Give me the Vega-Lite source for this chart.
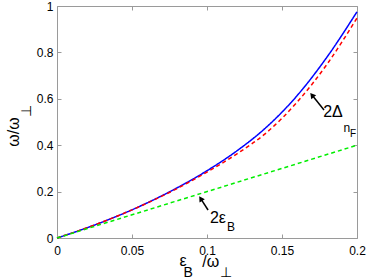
{
  "$schema": "https://vega.github.io/schema/vega-lite/v6.json",
  "width": 300,
  "height": 232,
  "autosize": "none",
  "padding": {"left": 57, "top": 6, "right": 17, "bottom": 41},
  "datasets": {
    "curves": [
      {"x": 0, "y": 0, "series": "omega"},
      {"x": 0.02, "y": 0.044, "series": "omega"},
      {"x": 0.04, "y": 0.094, "series": "omega"},
      {"x": 0.06, "y": 0.151, "series": "omega"},
      {"x": 0.08, "y": 0.216, "series": "omega"},
      {"x": 0.1, "y": 0.29, "series": "omega"},
      {"x": 0.12, "y": 0.376, "series": "omega"},
      {"x": 0.14, "y": 0.48, "series": "omega"},
      {"x": 0.16, "y": 0.613, "series": "omega"},
      {"x": 0.18, "y": 0.78, "series": "omega"},
      {"x": 0.2, "y": 0.975, "series": "omega"},
      {"x": 0, "y": 0, "series": "2Delta_nF"},
      {"x": 0.02, "y": 0.044, "series": "2Delta_nF"},
      {"x": 0.04, "y": 0.094, "series": "2Delta_nF"},
      {"x": 0.06, "y": 0.15, "series": "2Delta_nF"},
      {"x": 0.08, "y": 0.213, "series": "2Delta_nF"},
      {"x": 0.1, "y": 0.284, "series": "2Delta_nF"},
      {"x": 0.12, "y": 0.363, "series": "2Delta_nF"},
      {"x": 0.14, "y": 0.456, "series": "2Delta_nF"},
      {"x": 0.16, "y": 0.585, "series": "2Delta_nF"},
      {"x": 0.18, "y": 0.749, "series": "2Delta_nF"},
      {"x": 0.2, "y": 0.948, "series": "2Delta_nF"},
      {"x": 0, "y": 0, "series": "2eps_B"},
      {"x": 0.2, "y": 0.4, "series": "2eps_B"}
    ],
    "labels": [
      {"x": -0.0287, "y": 0.457, "text": "ω/ω", "kind": "ytitle"},
      {"x": -0.0197, "y": 0.548, "text": "⊥", "kind": "ytitle_sub"},
      {"x": 0.084, "y": -0.099, "text": "ε", "kind": "main"},
      {"x": 0.1025, "y": -0.103, "text": "/ω", "kind": "main"},
      {"x": 0.0875, "y": -0.149, "text": "B", "kind": "sub"},
      {"x": 0.1127, "y": -0.151, "text": "⊥", "kind": "sub"},
      {"x": 0.184, "y": 0.543, "text": "2Δ", "kind": "main"},
      {"x": 0.1933, "y": 0.476, "text": "n", "kind": "sub2"},
      {"x": 0.1973, "y": 0.448, "text": "F", "kind": "sub3"},
      {"x": 0.1073, "y": 0.0862, "text": "2ε", "kind": "main"},
      {"x": 0.116, "y": 0.0453, "text": "B", "kind": "sub2"}
    ],
    "arrows": [
      {"arrow": "Delta", "x": 0.178, "y": 0.552, "x2": 0.17, "y2": 0.616},
      {"arrow": "eps", "x": 0.1007, "y": 0.1207, "x2": 0.0958, "y2": 0.17}
    ]
  },
  "layer": [
    {
      "data": {"name": "curves"},
      "mark": {"type": "line", "strokeWidth": 1.5, "interpolate": "monotone"},
      "encoding": {
        "x": {"field": "x", "type": "quantitative", "scale": {"domain": [0, 0.2], "nice": false},
          "axis": {"orient": "bottom", "values": [0, 0.05, 0.1, 0.15, 0.2], "format": "~g", "title": null, "labelPadding": 11}},
        "y": {"field": "y", "type": "quantitative", "scale": {"domain": [0, 1], "nice": false},
          "axis": {"orient": "left", "values": [0, 0.2, 0.4, 0.6, 0.8, 1], "format": "~g", "title": null}},
        "color": {"field": "series", "type": "nominal", "legend": null,
          "scale": {"domain": ["omega", "2Delta_nF", "2eps_B"], "range": ["#0000ff", "#ff0000", "#00ee00"]}},
        "strokeDash": {"field": "series", "type": "nominal", "legend": null,
          "scale": {"domain": ["omega", "2Delta_nF", "2eps_B"], "range": [[1, 0], [4, 3], [4, 3]]}}
      }
    },
    {
      "data": {"name": "arrows"},
      "mark": {"type": "rule", "color": "black", "strokeWidth": 1.5},
      "encoding": {
        "x": {"field": "x", "type": "quantitative",
          "axis": {"orient": "top", "values": [0, 0.05, 0.1, 0.15, 0.2], "labels": false, "title": null}},
        "y": {"field": "y", "type": "quantitative",
          "axis": {"orient": "right", "values": [0, 0.2, 0.4, 0.6, 0.8, 1], "labels": false, "title": null}},
        "x2": {"field": "x2"},
        "y2": {"field": "y2"}
      }
    },
    {
      "data": {"name": "arrows"},
      "transform": [{"filter": "datum.arrow == 'Delta'"}],
      "mark": {"type": "point", "shape": "triangle-up", "filled": true, "color": "black", "size": 40, "angle": 321, "opacity": 1},
      "encoding": {
        "x": {"field": "x2", "type": "quantitative", "axis": null},
        "y": {"field": "y2", "type": "quantitative", "axis": null}
      }
    },
    {
      "data": {"name": "arrows"},
      "transform": [{"filter": "datum.arrow == 'eps'"}],
      "mark": {"type": "point", "shape": "triangle-up", "filled": true, "color": "black", "size": 40, "angle": 327, "opacity": 1},
      "encoding": {
        "x": {"field": "x2", "type": "quantitative", "axis": null},
        "y": {"field": "y2", "type": "quantitative", "axis": null}
      }
    },
    {
      "data": {"name": "labels"},
      "transform": [{"filter": "datum.kind == 'main'"}],
      "mark": {"type": "text", "font": "Liberation Sans", "fontSize": 16, "baseline": "middle", "align": "center", "color": "black"},
      "encoding": {
        "x": {"field": "x", "type": "quantitative", "axis": null},
        "y": {"field": "y", "type": "quantitative", "axis": null},
        "text": {"field": "text"}
      }
    },
    {
      "data": {"name": "labels"},
      "transform": [{"filter": "datum.kind == 'sub'"}],
      "mark": {"type": "text", "font": "Liberation Sans", "fontSize": 14, "baseline": "middle", "align": "center", "color": "black"},
      "encoding": {
        "x": {"field": "x", "type": "quantitative", "axis": null},
        "y": {"field": "y", "type": "quantitative", "axis": null},
        "text": {"field": "text"}
      }
    },
    {
      "data": {"name": "labels"},
      "transform": [{"filter": "datum.kind == 'sub2'"}],
      "mark": {"type": "text", "font": "Liberation Sans", "fontSize": 12, "baseline": "middle", "align": "center", "color": "black"},
      "encoding": {
        "x": {"field": "x", "type": "quantitative", "axis": null},
        "y": {"field": "y", "type": "quantitative", "axis": null},
        "text": {"field": "text"}
      }
    },
    {
      "data": {"name": "labels"},
      "transform": [{"filter": "datum.kind == 'sub3'"}],
      "mark": {"type": "text", "font": "Liberation Sans", "fontSize": 10, "baseline": "middle", "align": "center", "color": "black"},
      "encoding": {
        "x": {"field": "x", "type": "quantitative", "axis": null},
        "y": {"field": "y", "type": "quantitative", "axis": null},
        "text": {"field": "text"}
      }
    },
    {
      "data": {"name": "labels"},
      "transform": [{"filter": "datum.kind == 'ytitle'"}],
      "mark": {"type": "text", "font": "Liberation Sans", "fontSize": 16, "baseline": "middle", "align": "center", "angle": 270, "color": "black"},
      "encoding": {
        "x": {"field": "x", "type": "quantitative", "axis": null},
        "y": {"field": "y", "type": "quantitative", "axis": null},
        "text": {"field": "text"}
      }
    },
    {
      "data": {"name": "labels"},
      "transform": [{"filter": "datum.kind == 'ytitle_sub'"}],
      "mark": {"type": "text", "font": "Liberation Sans", "fontSize": 14, "baseline": "middle", "align": "center", "angle": 270, "color": "black"},
      "encoding": {
        "x": {"field": "x", "type": "quantitative", "axis": null},
        "y": {"field": "y", "type": "quantitative", "axis": null},
        "text": {"field": "text"}
      }
    }
  ],
  "resolve": {"axis": {"x": "independent", "y": "independent"}},
  "config": {
    "view": {"stroke": null},
    "axis": {
      "domainColor": "#9a9a9a",
      "domainWidth": 1,
      "tickColor": "#9a9a9a",
      "tickSize": -4,
      "grid": false,
      "labelFont": "Liberation Sans",
      "labelFontSize": 12,
      "labelColor": "black",
      "labelOverlap": false,
      "labelFlush": false,
      "labelBound": false,
      "labelPadding": 8
    }
  }
}
